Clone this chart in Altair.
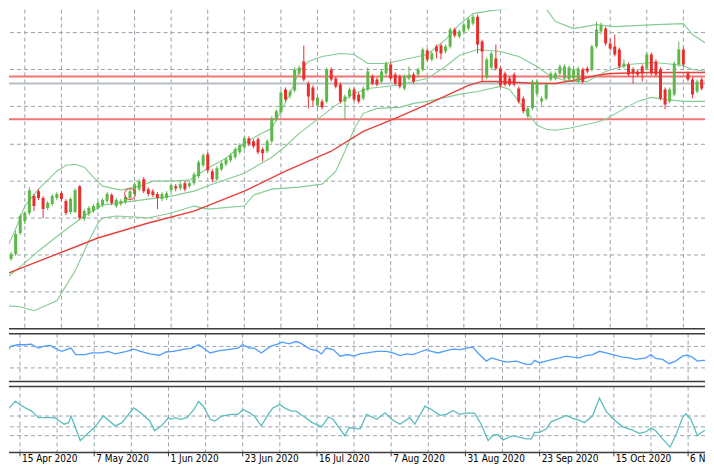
import altair as alt
import pandas as pd

# ---------------- data ----------------
bar_index = list(range(154))

opens = [1740, 1742, 1747, 1768, 1780, 1788, 1805, 1810, 1803, 1793,
         1797, 1803, 1808, 1800, 1789, 1789, 1815, 1782, 1787, 1790,
         1793, 1796, 1800, 1806, 1795, 1797, 1799, 1803, 1807, 1812,
         1822, 1812, 1810, 1807, 1802, 1803, 1811, 1815, 1813, 1818,
         1815, 1818, 1825, 1836, 1847, 1830, 1822, 1832, 1837, 1841,
         1844, 1849, 1854, 1863, 1860, 1862, 1852, 1850, 1860, 1882,
         1889, 1912, 1906, 1911, 1928, 1940, 1918, 1914, 1896, 1900,
         1900, 1932, 1923, 1917, 1900, 1905, 1912, 1907, 1903, 1912,
         1925, 1922, 1920, 1928, 1937, 1927, 1925, 1913, 1923, 1927,
         1927, 1932, 1951, 1942, 1955, 1956, 1950, 1955, 1972, 1965,
         1970, 1973, 1978, 1985, 1960, 1924, 1934, 1943, 1933, 1928,
         1923, 1927, 1913, 1903, 1885, 1893, 1908, 1900, 1903, 1922,
         1923, 1928, 1923, 1922, 1923, 1920, 1932, 1933, 1932, 1955,
         1970, 1973, 1958, 1955, 1952, 1935, 1937, 1932, 1930, 1935,
         1933, 1947, 1940, 1932, 1912, 1900, 1907, 1937, 1952, 1928,
         1922, 1910, 1922, 1917]
highs = [1748, 1749, 1770, 1787, 1790, 1814, 1807, 1812, 1805, 1800,
         1807, 1809, 1810, 1802, 1804, 1813, 1816, 1792, 1795, 1797,
         1800, 1803, 1809, 1808, 1803, 1802, 1806, 1812, 1819, 1822,
         1824, 1814, 1812, 1809, 1809, 1810, 1818, 1817, 1819, 1820,
         1820, 1829, 1841, 1848, 1849, 1832, 1835, 1840, 1844, 1848,
         1854, 1858, 1865, 1865, 1862, 1864, 1854, 1862, 1885, 1892,
         1911, 1914, 1912, 1934, 1936, 1956, 1920, 1916, 1906, 1902,
         1934, 1934, 1925, 1919, 1907, 1914, 1914, 1909, 1915, 1934,
         1927, 1924, 1932, 1940, 1939, 1929, 1927, 1927, 1935, 1929,
         1934, 1954, 1953, 1950, 1957, 1958, 1957, 1974, 1974, 1972,
         1979, 1984, 1987, 1987, 1962, 1944, 1950, 1957, 1935, 1930,
         1925, 1929, 1915, 1905, 1895, 1922, 1922, 1905, 1919, 1930,
         1930, 1937, 1937, 1936, 1934, 1935, 1934, 1935, 1957, 1980,
         1979, 1975, 1963, 1967, 1954, 1942, 1939, 1934, 1932, 1937,
         1949, 1949, 1942, 1934, 1914, 1914, 1940, 1960, 1954, 1930,
         1924, 1922, 1924, 1924]
lows = [1738, 1740, 1745, 1766, 1777, 1786, 1790, 1801, 1783, 1791,
        1795, 1801, 1800, 1786, 1787, 1788, 1781, 1780, 1785, 1788,
        1791, 1794, 1798, 1796, 1793, 1795, 1797, 1801, 1805, 1810,
        1808, 1805, 1804, 1792, 1800, 1801, 1809, 1810, 1811, 1810,
        1813, 1816, 1823, 1834, 1829, 1819, 1820, 1830, 1835, 1839,
        1842, 1847, 1852, 1855, 1853, 1847, 1840, 1848, 1858, 1880,
        1887, 1900, 1903, 1909, 1926, 1920, 1893, 1895, 1893, 1892,
        1898, 1920, 1913, 1898, 1882, 1903, 1900, 1898, 1901, 1910,
        1916, 1915, 1918, 1926, 1921, 1916, 1913, 1911, 1921, 1918,
        1925, 1930, 1940, 1940, 1943, 1942, 1948, 1953, 1964, 1963,
        1968, 1971, 1976, 1948, 1920, 1922, 1932, 1931, 1914, 1915,
        1915, 1915, 1898, 1888, 1882, 1891, 1906, 1896, 1901, 1920,
        1921, 1926, 1921, 1920, 1921, 1918, 1918, 1928, 1930, 1953,
        1967, 1956, 1951, 1945, 1933, 1933, 1925, 1918, 1925, 1920,
        1931, 1926, 1925, 1901, 1892, 1898, 1905, 1935, 1935, 1920,
        1903, 1908, 1911, 1915]
closes = [1746, 1747, 1767, 1785, 1788, 1811, 1795, 1803, 1792, 1798,
          1805, 1807, 1802, 1788, 1802, 1811, 1783, 1790, 1793, 1795,
          1798, 1801, 1807, 1798, 1801, 1800, 1804, 1810, 1817, 1820,
          1810, 1807, 1806, 1803, 1807, 1808, 1816, 1813, 1817, 1812,
          1818, 1827, 1839, 1846, 1831, 1822, 1833, 1838, 1842, 1846,
          1852, 1856, 1863, 1857, 1855, 1849, 1848, 1860, 1883, 1890,
          1909, 1902, 1910, 1932, 1934, 1922, 1905, 1901, 1904, 1894,
          1932, 1922, 1915, 1900, 1905, 1912, 1902, 1900, 1913, 1930,
          1918, 1917, 1930, 1938, 1923, 1918, 1915, 1925, 1927, 1920,
          1932, 1952, 1942, 1948, 1950, 1948, 1955, 1972, 1966, 1970,
          1977, 1982, 1985, 1957, 1950, 1942, 1948, 1933, 1916, 1917,
          1917, 1917, 1900, 1890, 1893, 1920, 1920, 1903, 1917, 1928,
          1928, 1935, 1935, 1934, 1932, 1933, 1920, 1930, 1955, 1972,
          1976, 1958, 1953, 1947, 1935, 1938, 1927, 1928, 1927, 1928,
          1947, 1928, 1927, 1903, 1897, 1912, 1938, 1952, 1937, 1922,
          1907, 1920, 1913, 1922]

upper_bar = [0, 2, 4, 7, 11, 13, 15, 17, 19, 21, 25, 29, 32, 36, 40, 44, 48, 52, 55, 58,
             60, 62, 64, 66, 69, 73, 76, 79, 83, 87, 92, 96, 99, 102, 106, 110, 113, 116, 118, 120,
             124, 129, 133, 142, 148, 150, 153]
upper_val = [1752, 1772, 1795, 1812, 1830, 1836, 1837, 1834, 1824, 1815, 1811, 1815, 1820, 1820, 1821, 1833, 1843, 1858, 1866, 1873,
             1890, 1908, 1930, 1940, 1945, 1948, 1947, 1938, 1938, 1942, 1947, 1962, 1977, 1988, 1991, 1993, 1995, 1997, 1993, 1980,
             1973, 1977, 1975, 1977, 1978, 1967, 1958]
mid_bar = [0, 4, 7, 12, 17, 21, 26, 31, 36, 41, 45, 52, 58, 61, 64, 68, 72, 76, 79, 85,
           92, 96, 99, 103, 108, 112, 116, 119, 123, 127, 131, 136, 141, 144, 148, 150, 153]
mid_val = [1723, 1738, 1750, 1768, 1785, 1796, 1799, 1802, 1805, 1810, 1817, 1828, 1844, 1855, 1868, 1882, 1896, 1908, 1913, 1916,
           1923, 1935, 1946, 1952, 1950, 1945, 1935, 1925, 1920, 1920, 1930, 1937, 1939, 1938, 1936, 1932, 1930]
lower_bar = [0, 3, 6, 11, 15, 18, 20, 21, 24, 28, 31, 36, 41, 44, 52, 54, 58, 61, 64, 69,
             72, 74, 76, 78, 81, 86, 89, 92, 99, 103, 108, 110, 112, 114, 116, 118, 120, 123, 126, 129,
             131, 134, 138, 141, 144, 148, 153]
lower_val = [1695, 1694, 1690, 1700, 1730, 1760, 1778, 1783, 1785, 1784, 1783, 1788, 1795, 1792, 1795, 1806, 1812, 1813, 1814, 1817,
             1830, 1850, 1872, 1888, 1893, 1894, 1898, 1900, 1907, 1910, 1915, 1912, 1900, 1888, 1876, 1872, 1871, 1873, 1876, 1879,
             1882, 1890, 1900, 1904, 1902, 1900, 1900]
ma_bar = [0, 10, 20, 31, 41, 52, 61, 71, 78, 85, 92, 101, 104, 107, 112, 116, 120, 125, 129, 132, 140, 153]
ma_val = [1727, 1745, 1763, 1778, 1790, 1810, 1830, 1850, 1870, 1883, 1897, 1916, 1920, 1920, 1919, 1918, 1918, 1922, 1926, 1928, 1929, 1929]

blue_bar = [0, 1, 2, 3.5, 5, 6.5, 7, 8, 9, 10.5, 11.5, 13, 14, 15, 16, 18, 19.5, 21.5, 23, 24.5,
            25.5, 27, 28.5, 30, 32, 34, 35.5, 37, 39, 41, 42.5, 43.5, 45, 47, 49.5, 51, 52, 53.5, 54.5, 56,
            58, 59.5, 60.5, 62, 63.5, 64.5, 66.5, 68, 69, 70, 71.5, 73, 74.5, 76,
            77.3, 78.7, 80.9, 83, 84.4, 85.9, 87.3, 88.7, 90.2, 91.6, 92.7, 94.1, 95.9, 97.3, 98.8, 100.2,
            101.6, 102.7, 104.5, 105.6, 107.4, 108.8, 111, 113.1, 114.2, 114.9, 116, 117.4, 118.8, 120.3,
            121.7, 123.1, 124.6, 126, 127.4, 128.9, 130.3, 131.7, 133.9, 135.3, 136.7, 138.9, 140, 141,
            142.5, 143.9, 145.3, 146.8, 147.8, 148.9, 150, 151.1, 153.4]
blue_val = [48.3, 48.3, 55, 56.7, 56.7, 57.3, 55.7, 53.3, 55, 56, 53.3, 50, 51.7, 53.3, 46.7, 46.7, 48.3, 48.3, 50, 47.3,
            48.3, 50, 52.3, 50, 47.3, 46, 49.3, 50, 51.7, 53.3, 56.7, 53.3, 48.3, 50.7, 52.3, 53.3, 56.7, 53.3, 53.3, 48.3,
            55, 57.3, 59.3, 57.7, 60, 58.3, 52.3, 50.7, 47.3, 53.3, 51.7, 45, 46.7, 45,
            47.3, 48.3, 50, 50, 48.3, 45.7, 47.3, 46.7, 49.3, 51.7, 50, 48.3, 50.7, 52.3, 51.7, 53.3,
            54.3, 48.3, 40, 43.3, 40.7, 39, 40, 36.7, 36.7, 40.7, 38.3, 40, 41.7, 43.3,
            45, 44, 43.3, 45.7, 46.7, 50, 48.3, 46.7, 44, 43.3, 41.7, 43.3, 46.7, 42.7,
            41.7, 37.3, 40, 45, 46, 44, 40, 40.7, 40.7]

teal_bar = [0, 1, 3, 4.5, 6.5, 8, 11.5, 13.5, 14.5, 15, 17, 18.5, 20, 22, 24.5, 26, 28.5, 30, 32, 33,
            34.5, 36, 36.5, 37.5, 38.5, 40, 41.5, 42.5, 43.5, 45, 46, 47.5, 49.5, 51, 52, 53.5, 54.5, 56, 57.5, 58.5,
            60, 61, 62.5, 63.5, 65, 67, 69, 70.5, 71.5, 74, 75,
            77.3, 78.7, 80.9, 82.7, 84.1, 85.9, 88, 89.1, 91.3, 92.7, 94.5, 95.9, 97.3, 98.8, 100.2, 102, 103.4, 104.9, 106, 107,
            108.1, 110.2, 111.7, 113.1, 114.2, 114.9, 116, 117.4, 118.5, 120.3, 121.7, 123.1, 124.6, 125.6, 127.4, 128.9, 130.3, 131.7, 133.9, 136,
            137.5, 138.9, 140, 141, 142.5, 144.1, 145.3, 146.8, 147.5, 148.6, 150, 151.4, 153.4]
teal_val = [53.3, 50, 60, 55, 50, 43.3, 43.3, 36.7, 38.3, 45, 20, 26.7, 33.3, 45, 35, 38.3, 53.3, 48.3, 40, 30,
            35, 43.3, 41.7, 43.3, 41.7, 43.3, 51.7, 60, 55, 41.7, 40, 45, 46.7, 46.7, 51.7, 48.3, 45, 35, 46.7, 53.3,
            56.7, 53.3, 50, 50, 45, 38.3, 34, 44, 41.7, 25, 33.3,
            31.7, 46.7, 41.7, 48.3, 41.7, 36.7, 43.3, 36.7, 55, 51.7, 45.7, 46.7, 50.7, 46.7, 48.3, 47.7, 36.7, 20, 25.7, 26,
            20.7, 25, 23.3, 21.7, 21.7, 28.3, 28.3, 31.7, 39.3, 42.7, 45.7, 42.7, 40.7, 38.3, 45, 63.3, 50, 42.7, 34, 30.7,
            27.3, 29, 32.7, 30, 21.7, 13.3, 25, 43.3, 47.3, 41.7, 25, 30, 33.3]

label_bars = [4, 20, 36, 52, 68, 84, 100, 116, 132, 148]
label_text = ['15 Apr 2020', '7 May 2020', '1 Jun 2020', '23 Jun 2020', '16 Jul 2020',
              '7 Aug 2020', '31 Aug 2020', '23 Sep 2020', '15 Oct 2020', '6 Nov 2020']
grid_bars = [4, 12, 20, 28, 36, 44, 52, 60, 68, 76, 84, 92, 100, 108, 116, 124, 132, 140, 148]
price_grid = [1969, 1932, 1895, 1857, 1820, 1783, 1746, 1709]
level_prices = [1925, 1882]
bid_price = [1918]
marker_bar = [27]
marker_price = [1807]
osc1_grid = [55, 33]
osc2_grid = [45, 34, 25]

# ---------------- styling / layout ----------------
W = 698
H1, H2 = 320, 48
AX = 66            # height of the lower oscillator area (axis line sits here)
H3 = AX + 14       # plus a row for the date labels
X_DOMAIN = [1.633, 151.64]
GREEN = '#5cb848'
RED = '#ec2d2d'
GRID = '#98a3ad'
BB = '#84cc92'
MA = '#e8403a'
LEVEL = '#f27474'
BID = '#b8bec4'
SEP = '#3c3c3c'
BLUE = '#4e9dff'
TEAL = '#5cbdbd'
FONT = 'DejaVu Sans Condensed, DejaVu Sans'

xs = alt.Scale(domain=X_DOMAIN, nice=False, zero=False)
ys1 = alt.Scale(domain=[1672, 1992], nice=False, zero=False)
ys2 = alt.Scale(domain=[19, 68], nice=False, zero=False)
ys3 = alt.Scale(domain=[8, 75], range=[AX, 0], nice=False, zero=False)


def X(field='bar'):
    return alt.X(f'{field}:Q', scale=xs, axis=None)


def vgrid(bottom=None):
    enc = dict(x=X())
    if bottom is not None:
        enc.update(y=alt.value(0), y2=alt.value(bottom))
    return alt.Chart(pd.DataFrame({'bar': grid_bars})).mark_rule(
        color=GRID, strokeDash=[4, 3], strokeWidth=1).encode(**enc)


def hgrid(values, scale):
    return alt.Chart(pd.DataFrame({'v': values})).mark_rule(
        color=GRID, strokeDash=[4, 3], strokeWidth=1).encode(y=alt.Y('v:Q', scale=scale, axis=None))


def border(ypix):
    return alt.Chart(pd.DataFrame({'b': [0]})).mark_rule(color=SEP, strokeWidth=1.5).encode(y=alt.value(ypix))


# ---------------- main price panel ----------------
candles = pd.DataFrame({'bar': bar_index, 'open': opens, 'high': highs, 'low': lows, 'close': closes})
candles['dir'] = ['up' if c >= o else 'down' for o, c in zip(opens, closes)]
color = alt.Color('dir:N', scale=alt.Scale(domain=['up', 'down'], range=[GREEN, RED]), legend=None)

bands = pd.concat([
    pd.DataFrame({'bar': upper_bar, 'price': upper_val, 'band': 'upper'}),
    pd.DataFrame({'bar': mid_bar, 'price': mid_val, 'band': 'middle'}),
    pd.DataFrame({'bar': lower_bar, 'price': lower_val, 'band': 'lower'}),
])
ma = pd.DataFrame({'bar': ma_bar, 'price': ma_val})

Y1 = alt.Y('price:Q', scale=ys1, axis=None)

levels = alt.Chart(pd.DataFrame({'price': level_prices})).mark_rule(color=LEVEL, strokeWidth=2).encode(y=Y1)
bid = alt.Chart(pd.DataFrame({'price': bid_price})).mark_rule(color=BID, strokeWidth=2).encode(y=Y1)
bb_lines = alt.Chart(bands).mark_line(color=BB, strokeWidth=1.1, clip=True).encode(x=X(), y=Y1, detail='band:N')
ma_line = alt.Chart(ma).mark_line(color=MA, strokeWidth=1.4, clip=True).encode(x=X(), y=Y1)
wicks = alt.Chart(candles).mark_rule(strokeWidth=1, clip=True).encode(
    x=X(), y=alt.Y('low:Q', scale=ys1, axis=None), y2='high:Q', color=color)
bodies = alt.Chart(candles).mark_bar(size=3, clip=True).encode(
    x=X(), y=alt.Y('open:Q', scale=ys1, axis=None), y2='close:Q', color=color)
marker = alt.Chart(pd.DataFrame({'bar': marker_bar, 'price': marker_price})).mark_point(
    shape='circle', filled=False, color=RED, size=120, strokeWidth=1.2).encode(x=X(), y=Y1)

main = alt.layer(
    vgrid(), hgrid(price_grid, ys1), levels, bid, bb_lines, ma_line, wicks, bodies, marker, border(H1)
).properties(width=W, height=H1)

# ---------------- oscillator panels ----------------
blue = pd.DataFrame({'bar': blue_bar, 'v': blue_val})
teal = pd.DataFrame({'bar': teal_bar, 'v': teal_val})
date_labels = pd.DataFrame({'bar': label_bars, 'label': label_text})

p2 = alt.layer(
    vgrid(), hgrid(osc1_grid, ys2),
    alt.Chart(blue).mark_line(color=BLUE, strokeWidth=1.3, clip=True).encode(
        x=X(), y=alt.Y('v:Q', scale=ys2, axis=None)),
    border(0), border(H2)
).properties(width=W, height=H2)

ticks = alt.Chart(date_labels).mark_rule(color=SEP, strokeWidth=1).encode(
    x=X(), y=alt.value(AX), y2=alt.value(AX + 4))
texts = alt.Chart(date_labels).mark_text(
    align='left', baseline='top', font=FONT, fontSize=10, color='#000000', dx=2, clip=True
).encode(x=X(), y=alt.value(AX + 2), text='label:N')

p3 = alt.layer(
    vgrid(bottom=AX), hgrid(osc2_grid, ys3),
    alt.Chart(teal).mark_line(color=TEAL, strokeWidth=1.3, clip=True).encode(
        x=X(), y=alt.Y('v:Q', scale=ys3, axis=None)),
    border(0), border(AX), ticks, texts
).properties(width=W, height=H3)

chart = alt.vconcat(main, p2, p3, spacing=3).properties(
    padding=0, background='white'
).configure_view(stroke=None)

chart.save("out.html", embed_options={"renderer": "svg", "actions": False})
